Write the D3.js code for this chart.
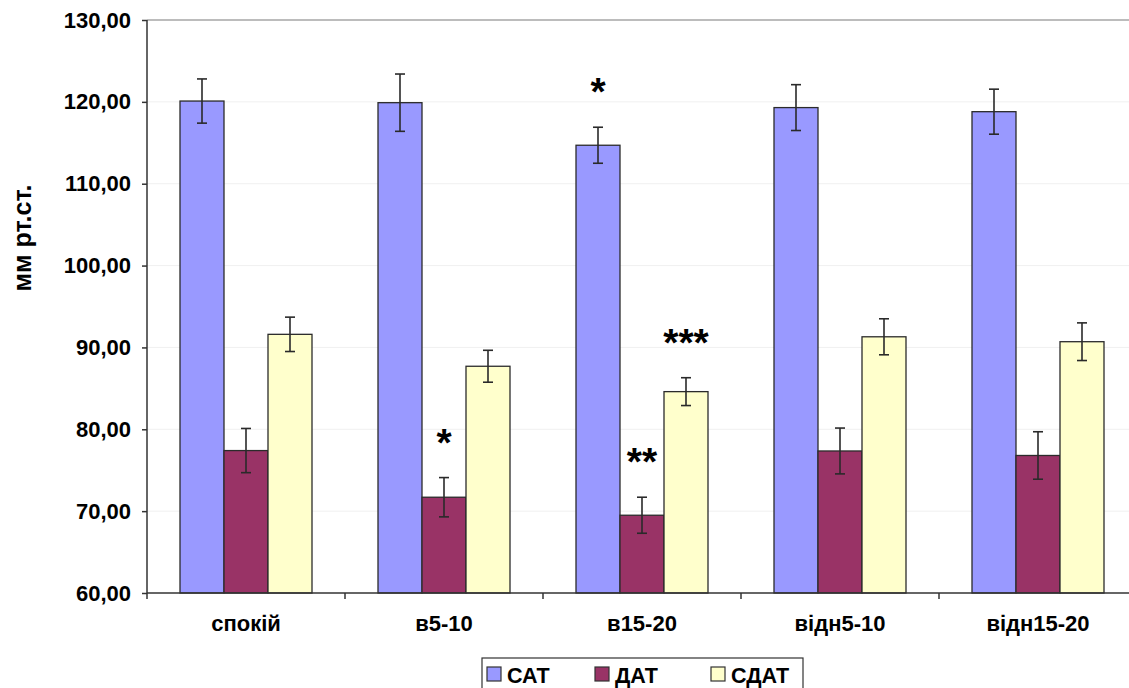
<!DOCTYPE html>
<html><head><meta charset="utf-8">
<script src="https://cdn.jsdelivr.net/npm/d3@7"></script>
<style>
html,body{margin:0;padding:0;background:#fff;overflow:hidden;}
text{font-family:"Liberation Sans",Arial,sans-serif;font-weight:bold;}
</style></head>
<body>
<svg id="chart" width="1129" height="688"></svg>
<script>
const categories = ["спокій", "в5-10", "в15-20", "відн5-10", "відн15-20"];
const seriesNames = ["САТ", "ДАТ", "СДАТ"];
const satValues  = [120.1, 119.9, 114.7, 119.3, 118.8];
const satErrors  = [2.7, 3.5, 2.2, 2.8, 2.75];
const datValues  = [77.4, 71.7, 69.5, 77.35, 76.8];
const datErrors  = [2.7, 2.4, 2.2, 2.8, 2.9];
const sdatValues = [91.6, 87.7, 84.6, 91.3, 90.7];
const sdatErrors = [2.1, 1.95, 1.7, 2.2, 2.3];
const yTicks = [60, 70, 80, 90, 100, 110, 120, 130];
const marks = [
  {cat: "в5-10", series: "ДАТ", label: "*"},
  {cat: "в15-20", series: "САТ", label: "*"},
  {cat: "в15-20", series: "ДАТ", label: "**"},
  {cat: "в15-20", series: "СДАТ", label: "***"}
];
const colors = ["#9999FF", "#993366", "#FFFFCC"];

const valuesBySeries = [satValues, datValues, sdatValues];
const errorsBySeries = [satErrors, datErrors, sdatErrors];
const data = [];
categories.forEach((c, i) => seriesNames.forEach((s, j) => {
  data.push({cat: c, series: s, value: valuesBySeries[j][i], err: errorsBySeries[j][i]});
}));

const svg = d3.select("#chart");
const mLeft = 147, mTop = 20, mBottom = 593, mRight = 1137;

const x = d3.scaleBand().domain(categories).range([mLeft, mRight]).paddingInner(0).paddingOuter(0);
const groupPad = 33;
const xs = d3.scaleBand().domain(seriesNames).range([groupPad, x.bandwidth() - groupPad]);
const y = d3.scaleLinear().domain([60, 130]).range([mBottom, mTop]);

// gridlines
svg.append("g").selectAll("line").data(yTicks.filter(t => t > 60 && t < 130)).join("line")
  .attr("x1", mLeft).attr("x2", mRight).attr("y1", d => y(d)).attr("y2", d => y(d))
  .attr("stroke", "#f0f0f0").attr("stroke-width", 1);
// plot top border
svg.append("line").attr("x1", mLeft).attr("x2", mRight).attr("y1", y(130)).attr("y2", y(130))
  .attr("stroke", "#a6a6a6").attr("stroke-width", 1.5);

// bars
svg.append("g").selectAll("rect").data(data).join("rect")
  .attr("x", d => x(d.cat) + xs(d.series))
  .attr("width", xs.bandwidth())
  .attr("y", d => y(d.value))
  .attr("height", d => y(60) - y(d.value))
  .attr("fill", d => colors[seriesNames.indexOf(d.series)])
  .attr("stroke", "#2b2b2b").attr("stroke-width", 1.3);

// error bars
const eb = svg.append("g").attr("stroke", "#2a2a2a").attr("stroke-width", 1.6);
data.forEach(d => {
  const cx = x(d.cat) + xs(d.series) + xs.bandwidth() / 2;
  eb.append("line").attr("x1", cx).attr("x2", cx).attr("y1", y(d.value + d.err)).attr("y2", y(d.value - d.err));
  eb.append("line").attr("x1", cx - 5).attr("x2", cx + 5).attr("y1", y(d.value + d.err)).attr("y2", y(d.value + d.err));
  eb.append("line").attr("x1", cx - 5).attr("x2", cx + 5).attr("y1", y(d.value - d.err)).attr("y2", y(d.value - d.err));
});

// significance marks
marks.forEach(m => {
  const d = data.find(e => e.cat === m.cat && e.series === m.series);
  const cx = x(d.cat) + xs(d.series) + xs.bandwidth() / 2;
  svg.append("text").attr("x", cx).attr("y", y(d.value + d.err) - 22)
    .attr("text-anchor", "middle").attr("font-size", 39).attr("fill", "#000").text(m.label);
});

// y axis
const yAxis = svg.append("g").attr("transform", `translate(${mLeft},0)`)
  .call(d3.axisLeft(y).tickValues(yTicks).tickSize(5).tickPadding(11)
    .tickFormat(d => d3.format(".2f")(d).replace(".", ",")));
yAxis.select(".domain").attr("stroke", "#333").attr("stroke-width", 1.5).attr("d", `M0,${mTop}V${mBottom}`);
yAxis.selectAll(".tick line").attr("stroke", "#333").attr("stroke-width", 1.5);
yAxis.selectAll(".tick text").attr("font-size", 22).attr("fill", "#000")
  .attr("font-family", "'Liberation Sans', Arial, sans-serif").attr("font-weight", "bold");

// x axis
const xAxis = svg.append("g").attr("transform", `translate(0,${mBottom})`)
  .call(d3.axisBottom(x).tickSize(0).tickPadding(22));
xAxis.select(".domain").attr("stroke", "#333").attr("stroke-width", 1.5).attr("d", `M${mLeft},0H${mRight}`);
xAxis.selectAll(".tick text").attr("font-size", 22).attr("fill", "#000")
  .attr("font-family", "'Liberation Sans', Arial, sans-serif").attr("font-weight", "bold");
// category boundary ticks
svg.append("g").selectAll("line").data(categories).join("line")
  .attr("x1", d => x(d)).attr("x2", d => x(d)).attr("y1", mBottom).attr("y2", mBottom + 6)
  .attr("stroke", "#333").attr("stroke-width", 1.5);

// y title
svg.append("text").attr("transform", `translate(31,238) rotate(-90)`)
  .attr("text-anchor", "middle").attr("font-size", 25).attr("fill", "#000").text("мм рт.ст.");

// legend
const lg = svg.append("g");
lg.append("rect").attr("x", 482).attr("y", 658).attr("width", 321).attr("height", 40)
  .attr("fill", "#fff").attr("stroke", "#333").attr("stroke-width", 1.2);
const legendX = [487, 595, 711];
seriesNames.forEach((s, i) => {
  lg.append("rect").attr("x", legendX[i]).attr("y", 667).attr("width", 14).attr("height", 14)
    .attr("fill", colors[i]).attr("stroke", "#333").attr("stroke-width", 1.2);
  lg.append("text").attr("x", legendX[i] + 20).attr("y", 683).attr("font-size", 21.5).attr("fill", "#000").text(s);
});
</script>
</body></html>
